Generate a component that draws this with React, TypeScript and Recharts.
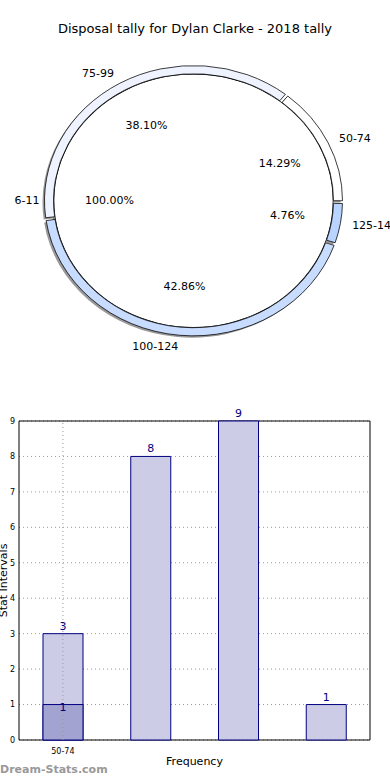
import React from 'react';
import {
  PieChart, Pie, Cell, BarChart, Bar, XAxis, YAxis, CartesianGrid,
  LabelList, ReferenceLine, ReferenceArea,
} from 'recharts';

const title = 'Disposal tally for Dylan Clarke - 2018 tally';

// outer ring / bars
const categories = ['50-74', '75-99', '100-124', '125-149'];
const counts = [3, 8, 9, 1];
const ringColors = ['#ffffff', '#eef3ff', '#c8dcff', '#b8d4ff'];

// inner pie / overlay bar
const innerNames = ['6-11'];
const innerCounts = [1];
const overlayCounts = [1, null, null, null];

const yTicks = [0, 1, 2, 3, 4, 5, 6, 7, 8, 9];

const FONT = 'DejaVu Sans, sans-serif';
const SY = 0.907; // the pie is drawn as an ellipse
const RAD = Math.PI / 180;

const ringData = categories.map((name, i) => ({ name, value: counts[i] }));
const innerData = innerNames.map((name, i) => ({ name, value: innerCounts[i] }));
const barData = categories.map((name, i) => ({
  name,
  count: counts[i],
  inner: overlayCounts[i],
}));

const makeLabel = (nameFactor: number, pctFactor: number) => (props: any) => {
  const { cx, cy, midAngle, outerRadius, percent, name } = props;
  const cos = Math.cos(-midAngle * RAD);
  const sin = Math.sin(-midAngle * RAD);
  const lx = cx + outerRadius * nameFactor * cos;
  const ly = cy + outerRadius * nameFactor * sin;
  const px = cx + outerRadius * pctFactor * cos;
  const py = cy + outerRadius * pctFactor * sin;
  const t = `scale(1, ${1 / SY})`;
  return (
    <g>
      <text x={lx} y={ly * SY} transform={t} textAnchor={lx > cx ? 'start' : 'end'}
        dominantBaseline="central" fontSize={11} fill="#000" fontFamily={FONT}>
        {name}
      </text>
      <text x={px} y={py * SY} transform={t} textAnchor="middle"
        dominantBaseline="central" fontSize={11} fill="#000" fontFamily={FONT}>
        {(percent * 100).toFixed(2)}%
      </text>
    </g>
  );
};

const YLabel = (props: any) => {
  const { viewBox } = props;
  const y = viewBox.y + viewBox.height / 2;
  return (
    <text x={3} y={y} transform={`rotate(-90, 3, ${y})`} textAnchor="middle"
      dominantBaseline="central" fontSize={11} fill="#000" fontFamily={FONT}>
      Stat Intervals
    </text>
  );
};

const App: React.FC = () => {
  const cx = 188.5;
  const cy = 178;
  return (
    <div style={{ position: 'absolute', left: 0, top: 0, width: 390, height: 780, background: '#fff', fontFamily: FONT, overflow: 'hidden' }}>
      <div style={{ position: 'absolute', top: 21, width: 390, textAlign: 'center', fontSize: 13, color: '#000' }}>
        {title}
      </div>

      <div style={{ position: 'absolute', left: 0, top: 17.5, width: 390, height: 360, transform: `scaleY(${SY})`, transformOrigin: '50% 50%' }}>
        <PieChart width={390} height={360}>
          <Pie data={innerData} dataKey="value" cx={cx - 2} cy={cy + 2} outerRadius={140}
            startAngle={0} endAngle={360} fill="#888" stroke="none" isAnimationActive={false} />
          <Pie data={ringData} dataKey="value" cx={cx - 2} cy={cy + 2} innerRadius={140} outerRadius={149}
            startAngle={0} endAngle={360} paddingAngle={1.2} fill="#999" stroke="none" isAnimationActive={false} />
          <Pie data={innerData} dataKey="value" cx={cx} cy={cy} outerRadius={140}
            startAngle={0} endAngle={360} fill="#ffffff" stroke="none"
            label={makeLabel(1.1, 0.6)} labelLine={false} isAnimationActive={false} />
          <Pie data={innerData} dataKey="value" cx={cx} cy={cy} innerRadius={139.2} outerRadius={140}
            startAngle={0} endAngle={360} fill="#000" stroke="none" isAnimationActive={false} />
          <Pie data={ringData} dataKey="value" cx={cx} cy={cy} innerRadius={140} outerRadius={149}
            startAngle={0} endAngle={360} paddingAngle={1.2} stroke="#000" strokeWidth={0.8}
            label={makeLabel(1.08, 0.64)} labelLine={false} isAnimationActive={false}>
            {ringData.map((d, i) => (
              <Cell key={d.name} fill={ringColors[i]} />
            ))}
          </Pie>
        </PieChart>
      </div>

      <div style={{ position: 'absolute', left: 0, top: 400 }}>
        <BarChart width={390} height={380} data={barData} barGap={-40}
          margin={{ top: 21, right: 20, left: 0, bottom: 0 }}>
          <CartesianGrid vertical={false} stroke="#999" strokeDasharray="1 3" />
          <ReferenceLine x={categories[0]} stroke="#999" strokeDasharray="1 3" />
          <XAxis dataKey="name" height={40} tickLine={false} axisLine={false}
            tick={{ fontSize: 8, fill: '#000', fontFamily: FONT }}
            tickFormatter={(v: string, i: number) => (i === 0 ? v : '')}
            label={{ value: 'Frequency', position: 'insideBottom', offset: 15, fontSize: 11, fill: '#000', fontFamily: FONT }} />
          <YAxis width={19} type="number" domain={[0, 9]} ticks={yTicks} interval={0}
            tickLine={false} axisLine={false} tickSize={2} tickMargin={2}
            tick={{ fontSize: 8, fill: '#000', fontFamily: FONT }}
            label={<YLabel />} />
          <Bar dataKey="count" barSize={40} fill="#ccccE6" stroke="#000080" strokeWidth={1} isAnimationActive={false}>
            <LabelList dataKey="count" position="top" offset={4} fill="#000080" fontSize={11} fontFamily={FONT} />
          </Bar>
          <Bar dataKey="inner" barSize={40} fill="#a3a3d1" stroke="#000080" strokeWidth={1} isAnimationActive={false}>
            <LabelList dataKey="inner" position="top" offset={-6} fill="#000080" fontSize={11} fontFamily={FONT} />
          </Bar>
          <ReferenceArea y1={0} y2={9} fill="none" stroke="#000" strokeWidth={1} ifOverflow="visible" />
        </BarChart>
      </div>

      <div style={{ position: 'absolute', left: 0, top: 763, fontSize: 11, fontWeight: 'bold', color: '#999' }}>
        Dream-Stats.com
      </div>
    </div>
  );
};

export default App;
